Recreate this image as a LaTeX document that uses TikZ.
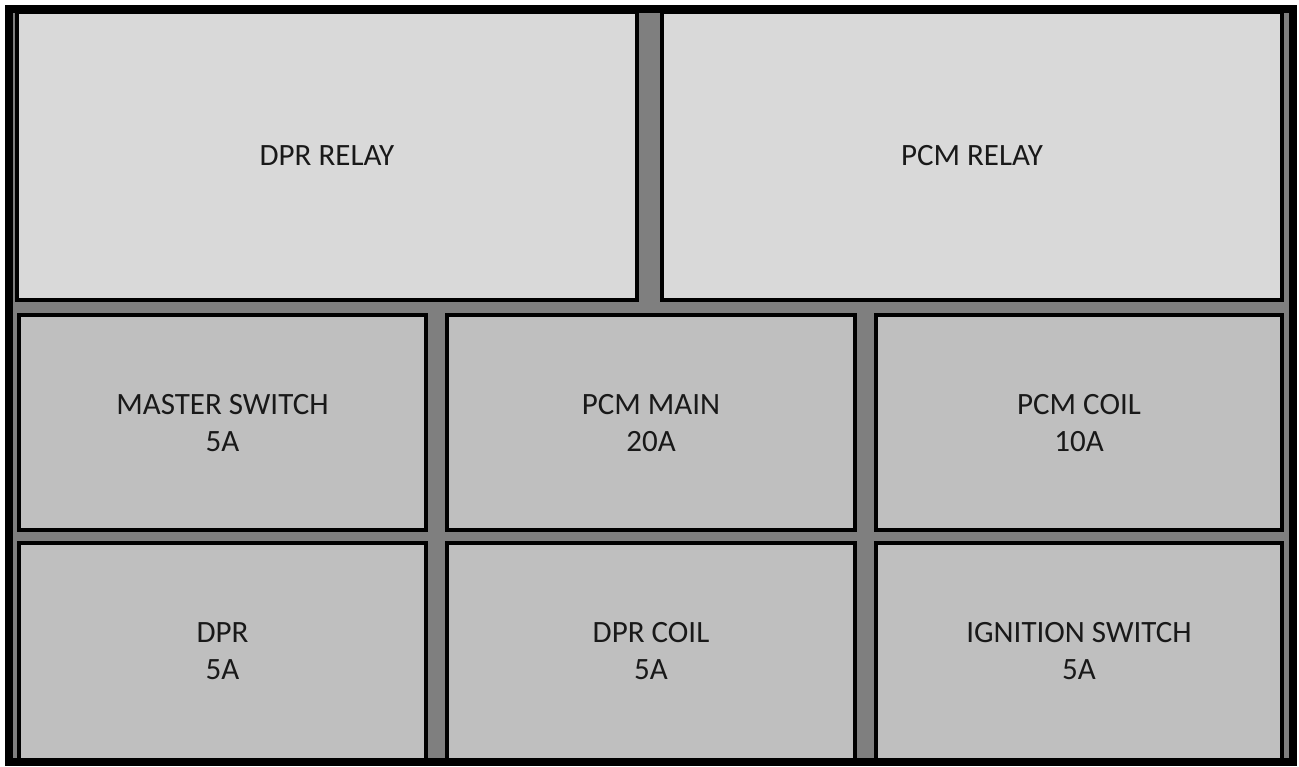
\documentclass[tikz,border=0pt]{standalone}
\usepackage{fontspec}
\setmainfont{Carlito}
\definecolor{gapgray}{HTML}{7F7F7F}
\definecolor{relaygray}{HTML}{D9D9D9}
\definecolor{fusegray}{HTML}{BFBFBF}
\tikzset{
  relaybox/.style={draw=black, line width=4pt, fill=relaygray},
  fusebox/.style={draw=black, line width=4pt, fill=fusegray},
  lbl/.style={align=center, font=\fontsize{31}{37}\selectfont, text=black!90}
}
\begin{document}
\begin{tikzpicture}[x=1pt,y=-1pt]
\useasboundingbox (0,0) rectangle (1299,767);
\fill[white] (0,0) rectangle (1299,767);
\fill[gapgray] (9,9) rectangle (1293,762);
% top row
\draw[relaybox] (17,12) rectangle (637,300);
\draw[relaybox] (662,12) rectangle (1282,300);
% middle row
\draw[fusebox] (19,315) rectangle (426,530);
\draw[fusebox] (447,315) rectangle (855,530);
\draw[fusebox] (876,315) rectangle (1282,530);
% bottom row
\draw[fusebox] (19,543) rectangle (426,760);
\draw[fusebox] (447,543) rectangle (855,760);
\draw[fusebox] (876,543) rectangle (1282,760);
% outer frame
\draw[line width=8pt] (9,9) rectangle (1293,762);
% labels
\node[lbl] (dprrelay) at (327,156) {DPR RELAY};
\node[lbl] (pcmrelay) at (972,156) {PCM RELAY};
\node[lbl] (master) at (222.5,423) {MASTER SWITCH\\5A};
\node[lbl] (pcmmain) at (651,423) {PCM MAIN\\20A};
\node[lbl] (pcmcoil) at (1079,423) {PCM COIL\\10A};
\node[lbl] (dpr) at (222.5,651) {DPR\\5A};
\node[lbl] (dprcoil) at (651,651) {DPR COIL\\5A};
\node[lbl] (ign) at (1079,651) {IGNITION SWITCH\\5A};
\end{tikzpicture}
\end{document}
